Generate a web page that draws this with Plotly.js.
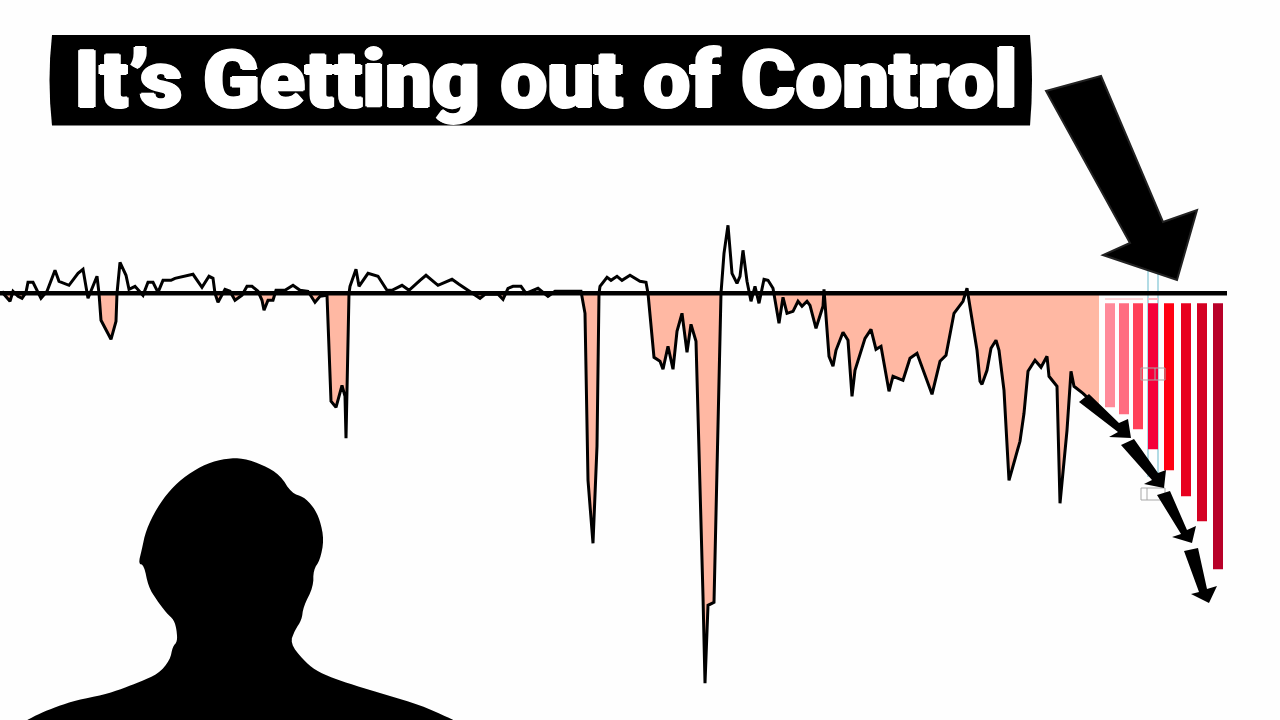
<!DOCTYPE html>
<html><head><meta charset="utf-8">
<script src="https://cdn.plot.ly/plotly-3.0.1.min.js"></script>
<style>html,body{margin:0;padding:0;background:#fff}#c{width:1280px;height:720px}</style>
</head><body><div id="c"></div>
<script>
const titleText = "It’s Getting out of Control";
const curveX = [2,4,10,13,18,22,26,28,33,41,47,55,59,69,78,83,88,93,97,99,101,111,116,117,120,126,129,135,143,148,153,158,163,171,175,193,202,209,213,215,218,225,230,235,242,247,252,258,262,264,268,273,276,285,293,300,308,315,320,327,331,336,342,345,346,349,350,356,359,368,378,387,392,402,409,420,426,438,452,459,470,480,485,498,503,508,513,521,526,538,548,555,573,581,585,588,593,597,599,600,607,611,617,622,630,640,646,648,654,660,663,668,673,677,682,687,691,696,703,705,708,714,721,724,728,732,737,740,743,747,751,755,759,764,768,773,779,783,787,793,798,802,807,810,816,823,824,829,833,836,843,848,852,855,865,871,876,881,889,893,903,910,917,925,932,940,946,954,963,967,977,980,982,987,991,996,999,1004,1009,1020,1024,1028,1035,1041,1047,1049,1057,1060,1067,1071,1074,1083,1099];
const curveY = [2,-1,-8,2,-3,-5,1,11,11,-5,2,23,12,8,20,24,-5,7,17,0,-27,-46,-28,0,31,18,4,7,-2,11,11,1,13,13,15,19,6,17,15,0,-9,4,2,-7,-2,7,7,2,-7,-17,-7,-7,3,3,8,3,2,-9,-3,-2,-108,-114,-92,-103,-145,0,7,24,7,20,17,3,3,8,3,13,18,8,14,9,2,-5,-1,-1,-6,5,7,7,0,5,-3,2,2,2,-20,-187,-250,-153,0,7,16,13,17,13,18,12,11,0,-64,-68,-76,-53,-76,-38,-20,-59,-31,-48,-303,-390,-312,-309,0,40,68,20,10,17,43,12,-8,7,-10,14,13,5,-30,-4,-20,-18,-8,-13,-8,-12,-35,-13,4,-63,-73,-57,-39,-47,-103,-77,-45,-36,-56,-53,-98,-83,-87,-65,-60,-83,-101,-68,-62,-20,-8,5,-57,-88,-91,-77,-55,-47,-57,-97,-187,-148,-120,-78,-67,-74,-63,-83,-93,-210,-137,-78,-93,-100,-115];
const barX = [1110,1124,1138,1153,1169,1186,1202,1218];
const barDepth = [-104,-111,-126,-146,-167,-193,-218,-266];
const barColors = ["#ff8a9a","#ff6c80","#ff4058","#f5003a","#ff0012","#e8001f","#d40022","#b80028"];
const zeroX = [0,1227];
const zeroY = [0,0];

// area below zero follows the curve, closing exactly where it crosses zero
const fillX = [], fillY = [];
curveX.forEach((x,i)=>{
  const y = curveY[i];
  if (i>0) {
    const px = curveX[i-1], py = curveY[i-1];
    if (py*y < 0) { fillX.push(px + (x-px)*(0-py)/(y-py)); fillY.push(0); }
  }
  fillX.push(x); fillY.push(Math.min(y,0));
});

const W = 1280, H = 720;
const toPath = pts => 'M' + pts.map(p => (p[0]/W).toFixed(5)+','+(1-p[1]/H).toFixed(5)).join(' L') + ' Z';
const poly = (pts,color,lw,layer) => ({type:'path',xref:'paper',yref:'paper',path:toPath(pts),fillcolor:color,line:{color:lw?'#222':color,width:lw||0},layer:layer||'above'});
const rect = (x0,y0,x1,y1,col,w,fill,layer) => ({type:'rect',xref:'paper',yref:'paper',x0:x0/W,x1:x1/W,y0:1-y0/H,y1:1-y1/H,line:{color:col,width:w},fillcolor:fill||'rgba(0,0,0,0)',layer:layer||'above'});
const vline = (x,y0,y1,col,layer,w) => ({type:'line',xref:'paper',yref:'paper',x0:x/W,x1:x/W,y0:1-y0/H,y1:1-y1/H,line:{color:col,width:w||1},layer:layer||'below'});

const chaikin = pts => { const o=[]; pts.forEach((p,i)=>{ if(i===pts.length-1){o.push(p);return;} const q=pts[i+1]; if(i===0)o.push(p); o.push([.75*p[0]+.25*q[0],.75*p[1]+.25*q[1]],[.25*p[0]+.75*q[0],.25*p[1]+.75*q[1]]); }); return o; };
const zoomPts = [[22,810],[60,790],[110,770],[170,750],[250,735],[310,715],[360,695],[415,672],[450,630],[458,590],[472,575],[470,540],[462,510],[440,490],[410,450],[385,410],[372,345],[355,342],[365,300],[378,240],[410,175],[450,120],[500,75],[560,40],[620,25],[670,25],[730,45],[780,75],[815,130],[850,140],[880,170],[900,210],[912,270],[900,330],[880,360],[880,410],[850,470],[845,510],[825,540],[810,580],[850,630],[885,660],[940,685],[1000,705],[1100,735],[1200,765],[1290,805],[1300,810]];
const person = chaikin(chaikin(zoomPts)).map(p=>[20+p[0]/3,450+p[1]/3]);

const barShape = {type:'path',xref:'paper',yref:'paper',fillcolor:'#000',line:{width:0},layer:'below',
  path:`M${52/W},${1-35/H} L${1030/W},${1-35/H} Q${1034/W},${1-80/H} ${1030/W},${1-125.5/H} L${52/W},${1-125.5/H} Q${47/W},${1-80/H} ${52/W},${1-35/H} Z`};

const shapes = [
  barShape,
  vline(1148,270,477,'#7fc4d4','below',1.2), vline(1158,270,477,'#7fc4d4','below',1.2),
  rect(1105,298,1143,300,'#ffd5d8',0,'#ffd5d8','below'),
  rect(1148,298,1158,300,'#ffb5c0',0,'#ffb5c0','below'),
  rect(1141,368,1165,380,'#a8a8a8',1), vline(1155,368,380,'#a8a8a8','above'),
  rect(1141,488,1165,500,'#a8a8a8',1), vline(1147,488,500,'#a8a8a8','above'),
  poly([[1046,91],[1101,76],[1163,222],[1197,210],[1177,280],[1103,255],[1130,243]],'#000',2),
  poly([[1089,394],[1119,423],[1128,419],[1131,438],[1109,437],[1118,432],[1079,402]],'#000'),
  poly([[1134,439],[1158,473],[1166,470],[1164,488],[1144,484],[1152,480],[1121,445]],'#000'),
  poly([[1170,491],[1187,530],[1196,526],[1192,543],[1172,537],[1181,534],[1157,495]],'#000'),
  poly([[1198,548],[1207,589],[1217,586],[1209,603],[1191,594],[1199,592],[1184,551]],'#000'),
  poly(person,'#000')
];

const traces = [
  {type:'scatter',mode:'lines',x:fillX,y:fillY,fill:'tozeroy',fillcolor:'#ffb8a3',line:{width:0},hoverinfo:'skip',showlegend:false},
  {type:'bar',x:barX,y:barDepth,base:-10,width:10,marker:{color:barColors,line:{width:0}},showlegend:false},
  {type:'scatter',mode:'lines',x:curveX,y:curveY,line:{color:'#000',width:3,shape:'linear'},showlegend:false},
  {type:'scatter',mode:'lines',x:zeroX,y:zeroY,line:{color:'#000',width:4.6},showlegend:false}
];

const layout = {
  width:W,height:H,margin:{l:0,r:0,t:0,b:0},
  paper_bgcolor:'#fefefe',plot_bgcolor:'#fefefe',showlegend:false,
  xaxis:{range:[0,1280],visible:false,fixedrange:true},
  yaxis:{range:[-426.7,293.3],visible:false,fixedrange:true},
  shapes:shapes,
  annotations:[{xref:'paper',yref:'paper',x:546/W,y:1-80/H,xanchor:'center',yanchor:'middle',showarrow:false,text:titleText,
    font:{family:'Roboto,"Liberation Sans",sans-serif',size:80,color:'#fff',weight:900,
    shadow:'1.5px 0 0 #fff,-1.5px 0 0 #fff,0 1px 0 #fff,0 -1px 0 #fff'}}]
};
Plotly.newPlot('c',traces,layout,{displayModeBar:false,staticPlot:true}).then(()=>{
  // title lettering is narrower in the original: fit it to the bar width
  const t = document.querySelector('.annotation-text');
  if (t) {
    const b = t.getBBox(), cx = b.x + b.width/2, sx = 943/b.width;
    t.setAttribute('transform',`translate(${cx} 0) scale(${sx} 1) translate(${-cx} 0)`);
  }
});
</script></body></html>
